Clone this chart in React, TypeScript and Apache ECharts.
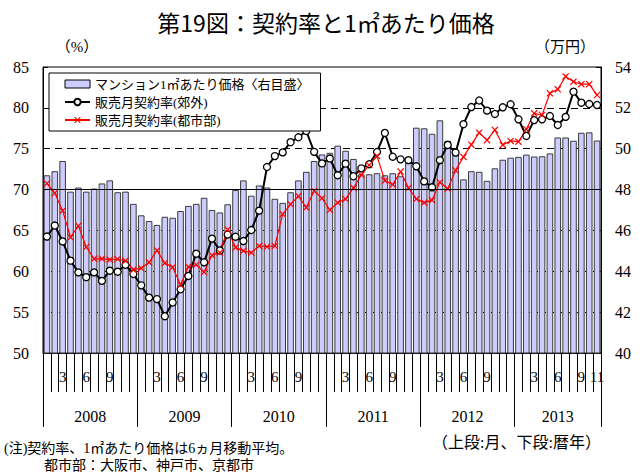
import React, { useEffect, useRef } from 'react';
import * as echarts from 'echarts';

// ---- data ----
const years = [2008, 2009, 2010, 2011, 2012, 2013];
const monthsPerYear = [12, 12, 12, 12, 12, 11];
const labeledMonths = [3, 6, 9];

// マンション1㎡あたり価格（万円, right axis)
const priceData = [
  48.7, 48.9, 49.4, 47.9, 48.1, 47.9, 48.05, 48.3, 48.45, 47.87, 47.9, 47.3,
  46.74, 46.46, 46.27, 46.67, 46.62, 46.95, 47.2, 47.3, 47.6, 47.0, 46.88, 47.28,
  47.98, 48.45, 47.7, 48.2, 48.1, 47.55, 47.35, 47.87, 48.45, 48.87, 49.4, 49.72,
  49.8, 50.15, 49.9, 49.5, 48.75, 48.75, 48.8, 48.7, 48.8, 48.65, 49.35, 51.03,
  51.0, 50.73, 51.39, 50.39, 49.85, 48.5, 48.9, 48.87, 48.43, 49.04, 49.46, 49.56,
  49.6, 49.71, 49.62, 49.63, 49.77, 50.55, 50.55, 50.39, 50.78, 50.8, 50.4,
];

// 販売月契約率（郊外） %
const suburbRate = [
  64.25, 65.6, 63.65, 61.3, 59.87, 59.28, 59.87, 58.83, 60.07, 59.95, 60.8, 59.67,
  58.28, 56.78, 56.6, 54.5, 56.18, 57.8, 59.43, 62.15, 61.1, 64.0, 62.55, 64.5,
  64.23, 63.7, 65.05, 67.42, 72.76, 74.1, 74.55, 75.8, 76.4, 77.17, 74.62, 73.2,
  73.8, 71.75, 73.17, 71.63, 72.6, 73.1, 74.6, 76.93, 74.02, 73.7, 73.6, 72.85,
  71.0, 70.28, 73.6, 75.46, 74.53, 78.0, 80.1, 80.9, 79.66, 79.25, 80.07, 80.44,
  78.6, 76.56, 78.5, 78.6, 79.0, 77.9, 78.9, 81.98, 80.63, 80.47, 80.35,
];

// 販売月契約率（都市部） %
const cityRate = [
  70.75, 69.57, 67.42, 64.16, 65.56, 62.97, 61.52, 61.54, 61.42, 61.5, 61.28, 60.2,
  60.38, 61.1, 62.55, 61.0, 60.5, 58.35, 60.55, 60.8, 59.9, 61.95, 62.28, 65.1,
  62.9, 62.5, 62.28, 63.1, 63.0, 63.1, 67.0, 68.2, 69.2, 67.8, 69.83, 68.95,
  67.5, 68.4, 68.85, 70.2, 71.8, 73.0, 74.1, 71.1, 70.6, 72.2, 70.2, 68.85,
  68.4, 68.7, 70.9, 70.1, 72.35, 74.0, 75.5, 76.96, 76.05, 77.3, 75.46, 75.95,
  75.86, 77.38, 79.33, 79.13, 81.78, 82.27, 83.85, 83.2, 82.9, 82.9, 81.57,
];

const priceName = 'マンション1㎡あたり価格〈右目盛〉';
const suburbName = '販売月契約率(郊外)';
const cityName = '販売月契約率(都市部)';

const titleText = '第19図：契約率と1㎡あたり価格';
const leftUnit = '（%）';
const rightUnit = '（万円）';
const noteLine1 = '(注)契約率、1㎡あたり価格は6ヵ月移動平均。';
const noteLine2 = '都市部：大阪市、神戸市、京都市';
const axisNote = '（上段:月、下段:暦年）';

// ---- derived axis data ----
const monthCats: string[] = [];
const monthNums: number[] = [];
years.forEach((y, k) => {
  for (let m = 1; m <= monthsPerYear[k]; m++) {
    monthCats.push(`${y}/${m}`);
    monthNums.push(m);
  }
});
const nMonths = monthCats.length;
const halfPoints = Array.from({ length: nMonths * 2 + 1 }, (_, j) => `h${j}`);
const yearLabelAt = new Map<number, string>();
const yearSeps = new Set<number>();
{
  let start = 0;
  years.forEach((y, k) => {
    yearSeps.add(start * 2);
    yearLabelAt.set(start * 2 + monthsPerYear[k], String(y));
    start += monthsPerYear[k];
  });
  yearSeps.add(start * 2);
}

const SERIF = 'Liberation Serif';
const JP = 'Liberation Serif, Noto Sans CJK JP';

const X_SYMBOL =
  'path://M0,1.2L1.2,0L5,3.8L8.8,0L10,1.2L6.2,5L10,8.8L8.8,10L5,6.2L1.2,10L0,8.8L3.8,5Z';

function txt(
  text: string,
  x: number,
  y: number,
  size: number,
  family: string,
  align: string,
  weight: string = 'normal'
) {
  return {
    type: 'text',
    x,
    y,
    silent: true,
    style: {
      text,
      fontSize: size,
      fontFamily: family,
      fontWeight: weight,
      fill: '#000',
      align,
      textAlign: align,
      verticalAlign: 'middle',
      textVerticalAlign: 'middle',
    },
  };
}

export default function App() {
  const ref = useRef<HTMLDivElement>(null);

  useEffect(() => {
    if (!ref.current) return;
    const chart = echarts.init(ref.current, undefined, { renderer: 'svg' });
    chart.setOption({
      animation: false,
      backgroundColor: '#fff',
      grid: {
        left: 43,
        right: 43,
        top: 67,
        bottom: 121,
        show: true,
        borderColor: '#000',
        borderWidth: 1,
        backgroundColor: 'transparent',
      },
      graphic: [
        txt(titleText, 326, 22, 23, 'Noto Sans CJK JP', 'center'),
        txt(leftUnit, 77, 47, 15, JP, 'center'),
        txt(rightUnit, 565, 47, 15, JP, 'center'),
        txt(noteLine1, 4, 448, 14, JP, 'left'),
        txt(noteLine2, 44, 465, 14, JP, 'left'),
        txt(axisNote, 601, 442, 16, JP, 'right'),
      ],
      legend: {
        orient: 'vertical',
        left: 49,
        top: 73,
        padding: [4, 11, 4, 15],
        itemGap: 4,
        itemWidth: 25,
        itemHeight: 8,
        backgroundColor: '#fff',
        borderColor: '#000',
        borderWidth: 1,
        borderRadius: 0,
        selectedMode: false,
        textStyle: { fontSize: 13, fontFamily: JP, color: '#000', lineHeight: 14 },
        data: [
          { name: priceName, icon: 'rect', itemStyle: { borderColor: '#000', borderWidth: 1 } },
          { name: suburbName },
          { name: cityName },
        ],
      },
      xAxis: [
        {
          type: 'category',
          data: monthCats,
          position: 'bottom',
          boundaryGap: true,
          axisLine: { show: true, onZero: false, lineStyle: { color: '#000', width: 1 } },
          axisTick: { show: true, interval: 0, length: 39, lineStyle: { color: '#000', width: 1 } },
          axisLabel: {
            interval: (index: number) =>
              labeledMonths.includes(monthNums[index]) || index === nMonths - 1,
            formatter: (_v: string, index: number) => String(monthNums[index]),
            margin: 16,
            fontSize: 15,
            fontFamily: SERIF,
            color: '#000',
          },
          splitLine: { show: false },
        },
        {
          type: 'category',
          data: halfPoints,
          position: 'bottom',
          boundaryGap: false,
          axisLine: { show: false, onZero: false },
          axisTick: {
            show: true,
            interval: (index: number) => yearSeps.has(index),
            length: 74,
            lineStyle: { color: '#000', width: 1 },
          },
          axisLabel: {
            interval: (index: number) => yearLabelAt.has(index),
            formatter: (_v: string, index: number) => yearLabelAt.get(index) || '',
            margin: 55,
            fontSize: 16,
            fontFamily: SERIF,
            color: '#000',
          },
          splitLine: { show: false },
        },
      ],
      yAxis: [
        {
          type: 'value',
          min: 50,
          max: 85,
          interval: 5,
          position: 'left',
          axisLine: { show: true, lineStyle: { color: '#000' } },
          axisTick: { show: true, inside: true, length: 5, lineStyle: { color: '#000' } },
          axisLabel: { margin: 14, fontSize: 16, fontFamily: SERIF, color: '#000' },
          splitLine: {
            show: true,
            lineStyle: {
              type: 'dotted',
              width: 1,
              color: ['transparent', '#000', '#000', '#000', 'transparent', 'transparent', 'transparent', 'transparent'],
            },
          },
        },
        {
          type: 'value',
          min: 40,
          max: 54,
          interval: 2,
          position: 'right',
          axisLine: { show: true, lineStyle: { color: '#000' } },
          axisTick: { show: true, inside: true, length: 5, lineStyle: { color: '#000' } },
          axisLabel: { margin: 14, fontSize: 16, fontFamily: SERIF, color: '#000' },
          splitLine: {
            show: true,
            lineStyle: {
              type: [7, 5],
              width: 1,
              color: ['transparent', 'transparent', 'transparent', 'transparent', 'transparent', '#000', '#000', 'transparent'],
            },
          },
        },
      ],
      series: [
        {
          name: priceName,
          type: 'bar',
          xAxisIndex: 0,
          yAxisIndex: 1,
          data: priceData,
          barCategoryGap: '16%',
          itemStyle: { color: '#ccccff', borderColor: '#3a3a3a', borderWidth: 1 },
        },
        {
          name: suburbName,
          type: 'line',
          xAxisIndex: 0,
          yAxisIndex: 0,
          data: suburbRate,
          symbol: 'circle',
          symbolSize: 7,
          showAllSymbol: true,
          lineStyle: { color: '#000', width: 2 },
          itemStyle: { color: '#fff', borderColor: '#000', borderWidth: 1.3 },
          markLine: {
            silent: true,
            symbol: ['none', 'none'],
            label: { show: false },
            lineStyle: { color: '#000', width: 1, type: 'solid' },
            data: [{ yAxis: 70 }],
          },
        },
        {
          name: cityName,
          type: 'line',
          xAxisIndex: 0,
          yAxisIndex: 0,
          data: cityRate,
          symbol: X_SYMBOL,
          symbolSize: 7,
          showAllSymbol: true,
          lineStyle: { color: '#ff0000', width: 1.2 },
          itemStyle: { color: '#ff0000' },
        },
      ],
    });
    return () => chart.dispose();
  }, []);

  return (
    <div
      ref={ref}
      style={{ position: 'absolute', left: 0, top: 0, width: 644, height: 474, background: '#fff' }}
    />
  );
}
